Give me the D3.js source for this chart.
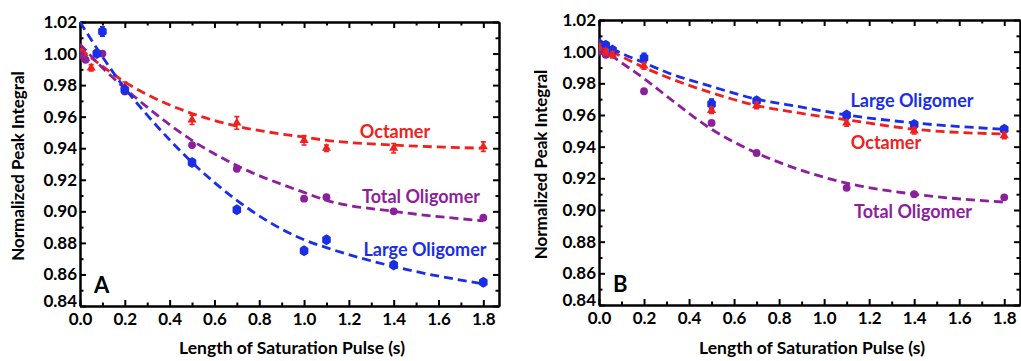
<!DOCTYPE html>
<html>
<head>
<meta charset="utf-8">
<script src="https://cdn.jsdelivr.net/npm/d3@7"></script>
<style>
body { margin:0; background:#fff; }
svg text { font-family: Lato, 'Open Sans', sans-serif; font-weight: bold; }
</style>
</head>
<body>
<div class="page"></div>
<script>
// ticks
var yTicks = [0.84, 0.86, 0.88, 0.90, 0.92, 0.94, 0.96, 0.98, 1.00, 1.02];
var xTicks = [0.0, 0.2, 0.4, 0.6, 0.8, 1.0, 1.2, 1.4, 1.6, 1.8];

// panel A : measured points
var octA_x = [0, 0.025, 0.05, 0.2, 0.5, 0.7, 1.0, 1.1, 1.4, 1.8];
var octA_y = [1.001, 0.997, 0.991, 0.979, 0.958, 0.956, 0.945, 0.940, 0.940, 0.941];
var octA_err = [0.002, 0.002, 0.002, 0.003, 0.003, 0.004, 0.003, 0.002, 0.003, 0.003];
var totA_x = [0, 0.025, 0.1, 0.2, 0.5, 0.7, 1.0, 1.1, 1.4, 1.8];
var totA_y = [0.999, 0.996, 1.000, 0.976, 0.942, 0.927, 0.908, 0.909, 0.900, 0.896];
var lrgA_x = [0.075, 0.1, 0.2, 0.5, 0.7, 1.0, 1.1, 1.4, 1.8];
var lrgA_y = [1.000, 1.014, 0.977, 0.931, 0.901, 0.875, 0.882, 0.866, 0.855];
var lrgA_err = [0.002, 0.003, 0.002, 0.002, 0.002, 0.002, 0.002, 0.002, 0.002];

// panel A : fitted curves
var fitA_x = [0, 0.1, 0.2, 0.3, 0.5, 0.7, 1.0, 1.1, 1.4, 1.8];
var fitA_oct = [1.003, 0.992, 0.982, 0.974, 0.962, 0.954, 0.947, 0.945, 0.942, 0.940];
var fitA_tot = [1.006, 0.991, 0.978, 0.966, 0.945, 0.929, 0.912, 0.907, 0.900, 0.894];
var fitA_lrg = [1.020, 0.998, 0.978, 0.961, 0.931, 0.907, 0.882, 0.877, 0.865, 0.854];

// panel B : measured points
var ptsB_x = [0, 0.03, 0.06, 0.2, 0.5, 0.7, 1.1, 1.4, 1.8];
var octB_y = [1.003, 1.000, 0.998, 0.991, 0.963, 0.966, 0.955, 0.950, 0.947];
var octB_err = [0.002, 0.002, 0.002, 0.002, 0.002, 0.002, 0.002, 0.002, 0.002];
var totB_y = [1.000, 0.998, 0.999, 0.975, 0.955, 0.936, 0.914, 0.910, 0.908];
var lrgB_y = [1.005, 1.004, 1.001, 0.996, 0.967, 0.969, 0.960, 0.954, 0.951];
var lrgB_err = [0.002, 0.002, 0.002, 0.003, 0.003, 0.002, 0.002, 0.002, 0.002];

// panel B : fitted curves
var fitB_x = [0, 0.1, 0.2, 0.3, 0.5, 0.7, 0.9, 1.1, 1.4, 1.8];
var fitB_oct = [1.004, 0.997, 0.990, 0.984, 0.974, 0.966, 0.961, 0.957, 0.951, 0.948];
var fitB_tot = [1.003, 0.993, 0.983, 0.972, 0.951, 0.936, 0.925, 0.917, 0.910, 0.905];
var fitB_lrg = [1.006, 0.999, 0.993, 0.987, 0.978, 0.970, 0.965, 0.960, 0.955, 0.951];

var RED = '#f0201e', PURPLE = '#8c1f9c', BLUE = '#1a2ee8';

var svg = d3.select('.page').append('svg')
  .attr('width', 1021)
  .attr('height', 361);

drawPanel({
  id: 'A', left: 80, right: 499, top: 22, bottom: 306,
  labelX: 18, titleX: 292,
  fits: [
    {x: fitA_x, y: fitA_oct, color: RED},
    {x: fitA_x, y: fitA_tot, color: PURPLE},
    {x: fitA_x, y: fitA_lrg, color: BLUE}
  ],
  series: [
    {x: octA_x, y: octA_y, err: octA_err, color: RED, shape: 'tri'},
    {x: totA_x, y: totA_y, color: PURPLE, shape: 'circle'},
    {x: lrgA_x, y: lrgA_y, err: lrgA_err, color: BLUE, shape: 'hex'}
  ],
  names: [
    {text: 'Octamer', x: 395, y: 138, color: RED},
    {text: 'Total Oligomer', x: 421, y: 203, color: PURPLE},
    {text: 'Large Oligomer', x: 425, y: 256, color: BLUE}
  ]
});

drawPanel({
  id: 'B', left: 599, right: 1020, top: 20, bottom: 305,
  labelX: 541, titleX: 812,
  fits: [
    {x: fitB_x, y: fitB_tot, color: PURPLE},
    {x: fitB_x, y: fitB_oct, color: RED},
    {x: fitB_x, y: fitB_lrg, color: BLUE}
  ],
  series: [
    {x: ptsB_x, y: totB_y, color: PURPLE, shape: 'circle'},
    {x: ptsB_x, y: lrgB_y, err: lrgB_err, color: BLUE, shape: 'hex'},
    {x: ptsB_x, y: octB_y, err: octB_err, color: RED, shape: 'tri'}
  ],
  names: [
    {text: 'Large Oligomer', x: 912, y: 107, color: BLUE},
    {text: 'Octamer', x: 886, y: 149, color: RED},
    {text: 'Total Oligomer', x: 913, y: 218, color: PURPLE}
  ]
});

function drawPanel(p) {
  var x = d3.scaleLinear().domain([0, 1.87]).range([p.left, p.right]);
  var y = d3.scaleLinear().domain([0.84, 1.02]).range([p.bottom, p.top]);

  var minorY = [0.85, 0.87, 0.89, 0.91, 0.93, 0.95, 0.97, 0.99, 1.01];
  var minorX = [0.1, 0.3, 0.5, 0.7, 0.9, 1.1, 1.3, 1.5, 1.7];

  var g = svg.append('g');

  // minor ticks
  g.append('g').attr('transform', 'translate(' + p.left + ',0)')
    .call(d3.axisLeft(y).tickValues(minorY).tickSize(-3.5).tickSizeOuter(0).tickFormat(''));
  g.append('g').attr('transform', 'translate(' + p.right + ',0)')
    .call(d3.axisRight(y).tickValues(minorY).tickSize(-3.5).tickSizeOuter(0).tickFormat(''));
  g.append('g').attr('transform', 'translate(0,' + p.bottom + ')')
    .call(d3.axisBottom(x).tickValues(minorX).tickSize(-3.5).tickSizeOuter(0).tickFormat(''));
  g.append('g').attr('transform', 'translate(0,' + p.top + ')')
    .call(d3.axisTop(x).tickValues(minorX).tickSize(-3.5).tickSizeOuter(0).tickFormat(''));

  // major ticks
  var yAxisG = g.append('g').attr('transform', 'translate(' + p.left + ',0)')
    .call(d3.axisLeft(y).tickValues(yTicks).tickSize(-6).tickSizeOuter(0).tickPadding(3).tickFormat(d3.format('.2f')));
  g.append('g').attr('transform', 'translate(' + p.right + ',0)')
    .call(d3.axisRight(y).tickValues(yTicks).tickSize(-6).tickSizeOuter(0).tickFormat(''));
  g.append('g').attr('transform', 'translate(0,' + p.bottom + ')')
    .call(d3.axisBottom(x).tickValues(xTicks).tickSize(-6).tickSizeOuter(0).tickPadding(7).tickFormat(d3.format('.1f')));
  g.append('g').attr('transform', 'translate(0,' + p.top + ')')
    .call(d3.axisTop(x).tickValues(xTicks).tickSize(-6).tickSizeOuter(0).tickFormat(''));

  g.selectAll('.domain').attr('stroke', '#000').attr('stroke-width', 2);
  g.selectAll('.tick line').attr('stroke', '#000').attr('stroke-width', 2);
  g.selectAll('.tick text').attr('fill', '#000').style('font-size', '17px').style('font-family', 'Lato, sans-serif').style('font-weight', 'bold');
  // lift the bottom label a bit so it clears 0.0
  yAxisG.selectAll('.tick text').filter(function(d) { return d == 0.84; }).attr('dy', '0.05em');

  // clip
  svg.append('clipPath').attr('id', 'clip' + p.id)
    .append('rect')
    .attr('x', p.left).attr('y', p.top)
    .attr('width', p.right - p.left).attr('height', p.bottom - p.top);

  var line = d3.line()
    .x(function(d) { return x(d[0]); })
    .y(function(d) { return y(d[1]); })
    .curve(d3.curveMonotoneX);

  var plot = svg.append('g').attr('clip-path', 'url(#clip' + p.id + ')');

  p.fits.forEach(function(f) {
    plot.append('path')
      .datum(f.x.map(function(v, i) { return [v, f.y[i]]; }))
      .attr('d', line)
      .attr('fill', 'none')
      .attr('stroke', f.color)
      .attr('stroke-width', 2.8)
      .attr('stroke-dasharray', '9,5');
  });

  p.series.forEach(function(s) {
    var pts = s.x.map(function(v, i) { return {x: v, y: s.y[i], e: s.err ? s.err[i] : 0}; });
    var grp = plot.append('g');
    grp.selectAll('path.err').data(pts.filter(function(d) { return d.e > 0; }))
      .enter().append('path')
      .attr('class', 'err')
      .attr('d', function(d) {
        var cx = x(d.x), y1 = y(d.y + d.e), y2 = y(d.y - d.e);
        return 'M' + (cx - 2.5) + ',' + y1 + 'H' + (cx + 2.5) + 'M' + cx + ',' + y1 + 'V' + y2 +
          'M' + (cx - 2.5) + ',' + y2 + 'H' + (cx + 2.5);
      })
      .attr('stroke', s.color)
      .attr('stroke-width', 1.6)
      .attr('fill', 'none');
    grp.selectAll('path.mk').data(pts)
      .enter().append('path')
      .attr('class', 'mk')
      .attr('transform', function(d) { return 'translate(' + x(d.x) + ',' + y(d.y) + ')'; })
      .attr('d', marker(s.shape))
      .attr('fill', s.color);
  });

  p.names.forEach(function(n) {
    svg.append('text')
      .text(n.text)
      .attr('x', n.x)
      .attr('y', n.y)
      .attr('text-anchor', 'middle')
      .attr('fill', n.color)
      .style('font-size', '18px');
  });

  svg.append('text')
    .text(p.id)
    .attr('x', p.left + 14)
    .attr('y', p.bottom - 13)
    .style('font-size', '22px');

  svg.append('text')
    .text('Normalized Peak Integral')
    .attr('transform', 'translate(' + p.labelX + ',' + ((p.top + p.bottom) / 2 + 2) + ') rotate(-90)')
    .attr('text-anchor', 'middle')
    .attr('dy', '0.35em')
    .style('font-size', '17px');

  svg.append('text')
    .text('Length of Saturation Pulse (s)')
    .attr('x', p.titleX)
    .attr('y', 354)
    .attr('text-anchor', 'middle')
    .style('font-size', '17.5px');
}

function marker(shape) {
  if (shape == 'circle') return d3.symbol().type(d3.symbolCircle).size(48)();
  if (shape == 'tri') return d3.symbol().type(d3.symbolTriangle).size(36)();
  // hexagon, pointy top
  var r = 5.5, pts = [];
  for (var i = 0; i < 6; i++) {
    var a = Math.PI / 3 * i - Math.PI / 2;
    pts.push([r * 0.9 * Math.cos(a), r * Math.sin(a)]);
  }
  return 'M' + pts.join('L') + 'Z';
}
</script>
</body>
</html>
